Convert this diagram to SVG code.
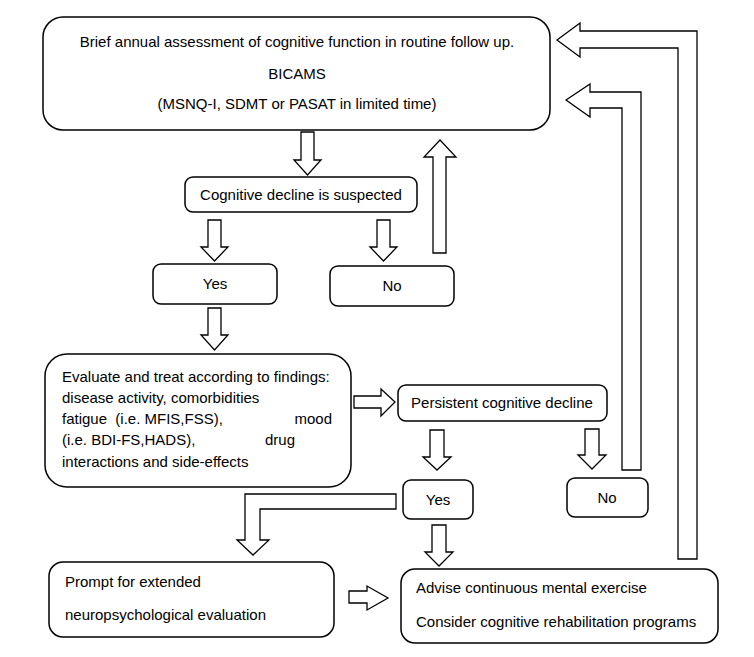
<svg xmlns="http://www.w3.org/2000/svg" width="754" height="657" viewBox="0 0 754 657">
<style>
.box{fill:#fff;stroke:#000;stroke-width:1.5}
.arr{fill:#fff;stroke:#000;stroke-width:1.3;stroke-linejoin:miter}
text{font-family:"Liberation Sans",Arial,sans-serif;font-size:15px;fill:#000}
.c{text-anchor:middle}
.e{text-anchor:end}
</style>
<rect width="754" height="657" fill="#fff"/>
<g id="connectors">
<polygon class="arr" points="301,132 314,132 314,160 321,160 307.5,175 294,160 301,160"/>
<polygon class="arr" points="208,220 221,220 221,247 228,247 214.5,261 201,247 208,247"/>
<polygon class="arr" points="377,220 390,220 390,247 397,247 383.5,261 370,247 377,247"/>
<polygon class="arr" points="433,253 446,253 446,157 456,157 440,140 424,157 433,157"/>
<polygon class="arr" points="208,308 221,308 221,335 228,335 214.5,350 201,335 208,335"/>
<polygon class="arr" points="354,396 381,396 381,389 395,402 381,416 381,408 354,408"/>
<polygon class="arr" points="430,430 444,430 444,457 451,457 437,470 423,457 430,457"/>
<polygon class="arr" points="585,429 599,429 599,455 606,455 592,469 578,455 585,455"/>
<polygon class="arr" points="396,494 245,494 245,540 237,540 253,555 269,540 260,540 260,509 396,509"/>
<polygon class="arr" points="432,525 446,525 446,552 453,552 439,566 425,552 432,552"/>
<polygon class="arr" points="349,591 367,591 367,586 388,598 367,610 367,603 349,603"/>
<polygon class="arr" points="566,100 590,84 590,92 641,92 641,470 622,470 622,108 590,108 590,117"/>
<polygon class="arr" points="557,40 580,23 580,31 697,31 697,559 678,559 678,48 580,48 580,57"/>
</g>
<g id="assessment">
<rect class="box" x="43" y="17" width="507" height="113" rx="20"/>
<text class="c" x="297" y="47">Brief annual assessment of cognitive function in routine follow up.</text>
<text class="c" x="297" y="79">BICAMS</text>
<text class="c" x="297" y="109">(MSNQ-I, SDMT or PASAT in limited time)</text>
</g>
<g id="suspected">
<rect class="box" x="185" y="177" width="232" height="35" rx="8"/>
<text class="c" x="301" y="200">Cognitive decline is suspected</text>
</g>
<g id="yes1">
<rect class="box" x="153" y="264" width="124" height="40" rx="8"/>
<text class="c" x="215" y="289">Yes</text>
</g>
<g id="no1">
<rect class="box" x="330" y="266" width="124" height="40" rx="8"/>
<text class="c" x="392" y="291">No</text>
</g>
<g id="evaluate">
<rect class="box" x="45" y="354" width="306" height="133" rx="22"/>
<text x="62" y="382">Evaluate and treat according to findings:</text>
<text x="62" y="403">disease activity, comorbidities</text>
<text x="62" y="424" xml:space="preserve">fatigue  (i.e. MFIS,FSS),</text>
<text class="e" x="332" y="424">mood</text>
<text x="62" y="445">(i.e. BDI-FS,HADS),</text>
<text x="265" y="445">drug</text>
<text x="62" y="467">interactions and side-effects</text>
</g>
<g id="persistent">
<rect class="box" x="398" y="385" width="209" height="36" rx="8"/>
<text class="c" x="502" y="408">Persistent cognitive decline</text>
</g>
<g id="yes2">
<rect class="box" x="403" y="480" width="70" height="39" rx="8"/>
<text class="c" x="438" y="505">Yes</text>
</g>
<g id="no2">
<rect class="box" x="567" y="478" width="81" height="39" rx="8"/>
<text class="c" x="607" y="503">No</text>
</g>
<g id="prompt">
<rect class="box" x="49" y="562" width="285" height="75" rx="14"/>
<text x="65" y="587">Prompt for extended</text>
<text x="65" y="620">neuropsychological evaluation</text>
</g>
<g id="advise">
<rect class="box" x="401" y="569" width="317" height="74" rx="14"/>
<text x="416" y="593">Advise continuous mental exercise</text>
<text x="416" y="627">Consider cognitive rehabilitation programs</text>
</g>
</svg>
